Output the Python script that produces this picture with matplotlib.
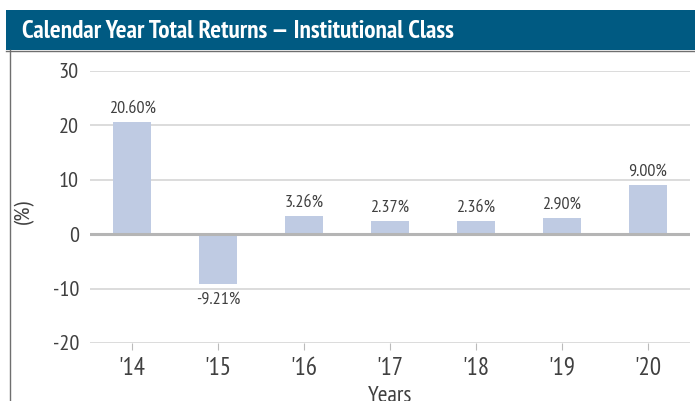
import matplotlib
matplotlib.use("Agg")
import matplotlib.pyplot as plt
from matplotlib.patches import Rectangle
from matplotlib.lines import Line2D
from matplotlib import font_manager

years = ["'14", "'15", "'16", "'17", "'18", "'19", "'20"]
returns = [20.60, -9.21, 3.26, 2.37, 2.36, 2.90, 9.00]
yticks = [-20, -10, 0, 10, 20, 30]

available = {f.name for f in font_manager.fontManager.ttflist}
candidates = ['PT Sans Narrow', 'Roboto Condensed', 'Archivo Narrow', 'Liberation Sans Narrow']
family = [c for c in candidates if c in available][:1] + ['DejaVu Sans']
plt.rcParams['font.family'] = family

W, H = 695, 401
fig = plt.figure(figsize=(W / 100, H / 100), dpi=100)

def fx(px):
    return px / W

def fy(py):
    return 1 - py / H

# header band
fig.patches.append(Rectangle((fx(6), fy(50)), 1 - fx(6), fy(10) - fy(50),
                             transform=fig.transFigure, facecolor='#005A82',
                             edgecolor='none', zorder=0))
fig.lines.append(Line2D([fx(6), 1], [fy(50.5), fy(50.5)], transform=fig.transFigure,
                        color='#6f6f6f', lw=1.0))
fig.lines.append(Line2D([fx(9.5), fx(9.5)], [fy(50), 0], transform=fig.transFigure,
                        color='#6f6f6f', lw=1.0))
fig.text(fx(22), fy(32), "Calendar Year Total Returns \u2014 Institutional Class",
         color='white', fontsize=18.2, fontweight='bold', va='center', ha='left')

ax = fig.add_axes([fx(90), fy(343), fx(690) - fx(90), fy(71) - fy(343)])
x = list(range(len(years)))
ax.bar(x, returns, width=0.44, color='#BFCBE3', zorder=2)
ax.set_xlim(-0.49, len(years) - 0.51)
ax.set_ylim(-20, 30)
ax.set_yticks(yticks)
ax.set_yticklabels([str(v) for v in yticks], fontsize=16, color='#404040')
ax.set_xticks(x)
ax.set_xticklabels(years, fontsize=18, color='#404040')
ax.tick_params(axis='y', length=0, pad=8)
ax.tick_params(axis='x', length=5, color='#bbbbbb', pad=5, direction='out')
for s in ax.spines.values():
    s.set_visible(False)
for v in yticks:
    if v == 0:
        ax.axhline(v, color='#b5b5b5', lw=2.2, zorder=3)
    else:
        ax.axhline(v, color='#d5d5d5', lw=1.2, zorder=1)

for xi, v in zip(x, returns):
    if v >= 0:
        ax.annotate(f"{v:.2f}%", (xi, v), xytext=(0, 4), textcoords='offset points',
                    ha='center', va='bottom', fontsize=13, color='#404040')
    else:
        ax.annotate(f"{v:.2f}%", (xi, v), xytext=(0, -5), textcoords='offset points',
                    ha='center', va='top', fontsize=13, color='#404040')

fig.text(fx(24), fy(212), "(%)", rotation=90, fontsize=16, color='#404040',
         ha='center', va='center')
fig.text(fx(390), fy(397), "Years", fontsize=17, color='#404040', ha='center', va='center')

fig.savefig("out.png", dpi=100)
